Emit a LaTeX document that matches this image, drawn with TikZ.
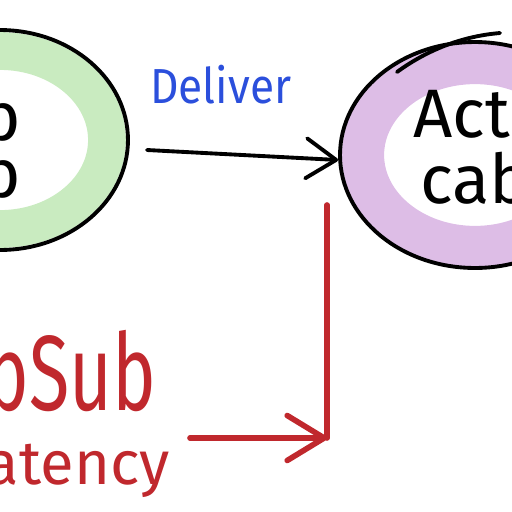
\documentclass[tikz,border=0pt]{standalone}
\usepackage{fontspec}
\setmainfont{Fira Sans}
\usepackage{graphicx}
\usetikzlibrary{shapes.geometric,arrows.meta}
\definecolor{ringgreen}{HTML}{C9EBC0}
\definecolor{ringpurple}{HTML}{DDBDE6}
\definecolor{inkblue}{HTML}{2B4FDC}
\definecolor{inkred}{HTML}{C0282D}
\begin{document}
\begin{tikzpicture}[x=0.02cm,y=-0.02cm,
  ink/.style={draw=black,line width=2.2pt,line cap=round,line join=round},
  bubble/.style={ellipse,ink,inner sep=0pt},
  redline/.style={draw=inkred,line width=3.2pt,line cap=round,line join=round},
  bigtext/.style={inner sep=0pt,font=\fontsize{39}{39}\selectfont},
  blackhead/.style={-{Straight Barb[round,length=0.6cm,width=0.8cm]}},
  redhead/.style={-{Straight Barb[round,length=0.74cm,width=0.9cm]}}]
\useasboundingbox (0,0) rectangle (512,512);
\clip (0,0) rectangle (512,512);
% left bubble
\draw[ringgreen,line width=21.5pt] (0,140) ellipse [x radius=2.14cm, y radius=1.78cm];
\node[bubble,minimum width=5.12cm,minimum height=4.4cm] (ps) at (0,140) {};
\node[bigtext,anchor=base east] (pub) at (22,140) {Pub};
\node[bigtext,anchor=base east] (sub) at (22,197) {Sub};
% right bubble
\draw[ringpurple,line width=24pt] (475,155) ellipse [x radius=2.24cm, y radius=1.84cm];
\node[bubble,minimum width=5.4cm,minimum height=4.52cm] (ac) at (475,155) {};
\draw[ink] (397,72) .. controls (430,48) and (465,36) .. (500,33);
\node[bigtext,anchor=base west] (act) at (413,137) {Action};
\node[bigtext,anchor=base west] (cab) at (420,203) {cable};
% deliver arrow
\node[inner sep=0pt,anchor=base west,text=inkblue,font=\fontsize{28}{28}\selectfont] (dl) at (150,103) {\scalebox{0.9}[1]{Deliver}};
\coordinate (d0) at (147,150);
\draw[ink,blackhead] (d0) -- ([yshift=-0.1cm]ac.west);
% red latency
\coordinate (r0) at (327,205);
\coordinate (r1) at (327,438);
\coordinate (r2) at (190,438);
\draw[redline] (r0) -- (r1);
\draw[redline,redhead] (r2) -- (r1);
\node[inner sep=0pt,anchor=base east,text=inkred,font=\fontsize{42}{42}\selectfont] (pst) at (157,410) {\scalebox{1}[1.45]{PubSub}};
\node[inner sep=0pt,anchor=base east,text=inkred,font=\fontsize{35}{35}\selectfont] (lat) at (170,484) {latency};
\end{tikzpicture}
\end{document}
